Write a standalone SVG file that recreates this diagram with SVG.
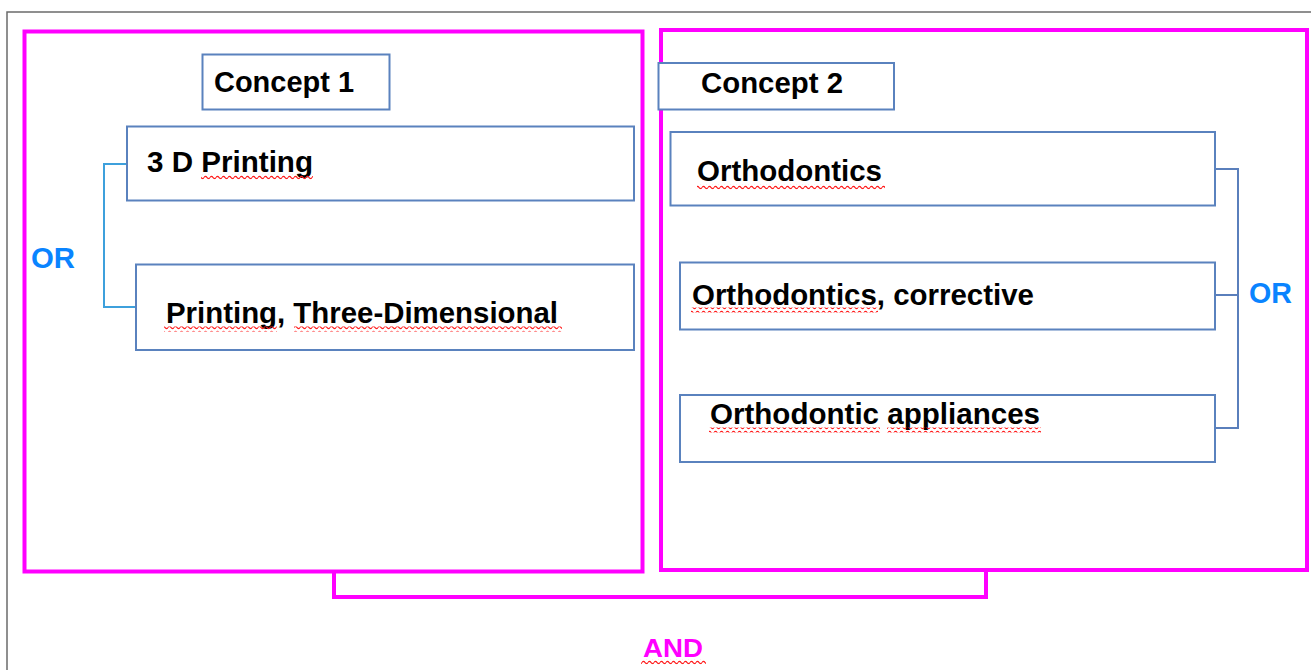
<svg xmlns="http://www.w3.org/2000/svg" width="1311" height="670" viewBox="0 0 1311 670">
<style>
.frame{fill:none;stroke:#6b6b6b;stroke-width:1.5}
.concept{fill:none;stroke:#ff00ff;stroke-width:4}
.box{fill:#ffffff;stroke:#5a82be;stroke-width:2}
.lbl{font-family:"Liberation Sans",Arial,sans-serif;font-weight:bold;font-size:29px;fill:#000000}
.or{font-family:"Liberation Sans",Arial,sans-serif;font-weight:bold;font-size:29px;fill:#0a84ff}
.and{font-family:"Liberation Sans",Arial,sans-serif;font-weight:bold;font-size:26px;fill:#ff00ff}
.sq{fill:url(#wave)}
</style>
<defs>
<pattern id="wave" x="0" y="0" width="6" height="5" patternUnits="userSpaceOnUse">
<path d="M0 2.5 Q1.5 0.3 3 2.5 T6 2.5" fill="none" stroke="#ff1a1a" stroke-width="1.3"/>
</pattern>
</defs>
<rect width="1311" height="670" fill="#ffffff"/>
<path class="frame" d="M7 670 V12 H1311"/>

<g id="concept1-group">
<rect class="concept" x="24.5" y="31.5" width="618" height="540"/>
</g>
<g id="concept2-group">
<rect class="concept" x="661" y="30" width="646" height="540"/>
</g>

<g id="connectors">
<path d="M127 164 H104 V307 H136" fill="none" stroke="#3da0dc" stroke-width="2"/>
<path d="M1215 169 H1238 V428 H1215 M1215 295 H1238" fill="none" stroke="#5a7fbc" stroke-width="2"/>
<path d="M334 572 V597 H986 V570" fill="none" stroke="#ff00ff" stroke-width="4"/>
</g>

<g id="concept1">
<rect class="box" x="202.5" y="54.5" width="187" height="55"/>
<text class="lbl" x="214" y="92" textLength="140" lengthAdjust="spacingAndGlyphs">Concept 1</text>
</g>
<g id="printing3d">
<rect class="box" x="127" y="126.5" width="507" height="74"/>
<text class="lbl" x="147" y="172" textLength="166" lengthAdjust="spacingAndGlyphs">3 D Printing</text>
<rect class="sq" x="201" y="174.5" width="112" height="5"/>
</g>
<g id="printing-three-dimensional">
<rect class="box" x="136" y="264.5" width="498" height="85.5"/>
<text class="lbl" x="166" y="323" textLength="392" lengthAdjust="spacingAndGlyphs">Printing, Three-Dimensional</text>
<rect class="sq" x="164" y="326.5" width="113" height="5"/>
<rect class="sq" x="294" y="326.5" width="268" height="5"/>
</g>
<g id="or-left">
<text class="or" x="31" y="268" textLength="44" lengthAdjust="spacingAndGlyphs">OR</text>
</g>

<g id="concept2">
<rect class="box" x="658.5" y="63" width="235.5" height="46.5"/>
<text class="lbl" x="701" y="93" textLength="142" lengthAdjust="spacingAndGlyphs">Concept 2</text>
</g>
<g id="orthodontics">
<rect class="box" x="670.5" y="132" width="544.5" height="73.5"/>
<text class="lbl" x="697" y="181" textLength="185" lengthAdjust="spacingAndGlyphs">Orthodontics</text>
<rect class="sq" x="697" y="184.5" width="188" height="5"/>
</g>
<g id="orthodontics-corrective">
<rect class="box" x="680" y="262.5" width="535" height="67"/>
<text class="lbl" x="692" y="305" textLength="342" lengthAdjust="spacingAndGlyphs">Orthodontics, corrective</text>
<rect class="sq" x="691" y="307.5" width="187" height="5"/>
</g>
<g id="orthodontic-appliances">
<rect class="box" x="680" y="395" width="535" height="67"/>
<text class="lbl" x="710" y="424" textLength="330" lengthAdjust="spacingAndGlyphs">Orthodontic appliances</text>
<rect class="sq" x="709" y="427.5" width="171" height="5"/>
<rect class="sq" x="887" y="427.5" width="154" height="5"/>
</g>
<g id="or-right">
<text class="or" x="1249" y="303" textLength="43" lengthAdjust="spacingAndGlyphs">OR</text>
</g>
<g id="and-label">
<text class="and" x="643" y="657" textLength="60" lengthAdjust="spacingAndGlyphs">AND</text>
<rect class="sq" x="641" y="659.5" width="65" height="5"/>
</g>
</svg>
